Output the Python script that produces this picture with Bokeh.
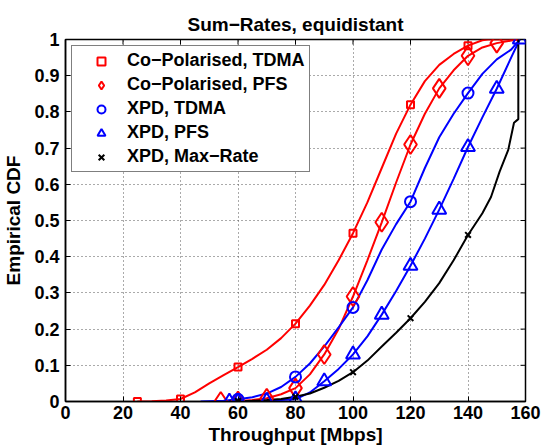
import math
from bokeh.plotting import figure
from bokeh.models import Legend, LegendItem, FixedTicker, Range1d
from bokeh.embed import file_html
from bokeh.resources import INLINE

# ---------------- data ----------------
x_ticks = [0, 20, 40, 60, 80, 100, 120, 140, 160]
x_tick_labels = ["0", "20", "40", "60", "80", "100", "120", "140", "160"]
y_ticks = [0, 0.1, 0.2, 0.3, 0.4, 0.5, 0.6, 0.7, 0.8, 0.9, 1.0]
y_tick_labels = ["0", "0.1", "0.2", "0.3", "0.4", "0.5", "0.6", "0.7", "0.8", "0.9", "1"]

series_names = ["Co\u2212Polarised, TDMA", "Co\u2212Polarised, PFS", "XPD, TDMA", "XPD, PFS", "XPD, Max\u2212Rate"]

co_tdma_x = [25, 30, 35, 40, 45, 50, 55, 60, 65, 70, 75, 80, 85, 90, 95, 100, 105, 110, 115, 120, 125, 130, 135, 140, 145, 147, 158]
co_tdma_y = [0, 0.001, 0.003, 0.007, 0.025, 0.05, 0.073, 0.095, 0.118, 0.143, 0.175, 0.215, 0.265, 0.322, 0.39, 0.465, 0.55, 0.645, 0.74, 0.82, 0.885, 0.93, 0.96, 0.983, 0.998, 1.0, 1.0]
co_tdma_mx = [25, 40, 60, 80, 100, 120, 140]
co_tdma_my = [0, 0.007, 0.095, 0.215, 0.465, 0.82, 0.983]

co_pfs_x = [54, 60, 65, 70, 75, 80, 85, 90, 95, 100, 105, 110, 115, 120, 125, 130, 135, 140, 145, 150, 155, 158]
co_pfs_y = [0, 0.001, 0.004, 0.009, 0.02, 0.037, 0.075, 0.13, 0.2, 0.29, 0.39, 0.495, 0.605, 0.71, 0.795, 0.865, 0.915, 0.955, 0.978, 0.99, 0.997, 1.0]
co_pfs_mx = [54, 60, 70, 80, 90, 100, 110, 120, 130, 140, 150]
co_pfs_my = [0, 0.001, 0.009, 0.037, 0.13, 0.29, 0.495, 0.71, 0.865, 0.955, 0.99]

xpd_tdma_x = [47, 55, 60, 65, 70, 75, 80, 85, 90, 95, 100, 105, 110, 115, 120, 125, 130, 135, 140, 145, 150, 155, 158]
xpd_tdma_y = [0, 0.002, 0.006, 0.012, 0.022, 0.04, 0.068, 0.105, 0.152, 0.205, 0.26, 0.335, 0.42, 0.49, 0.552, 0.645, 0.73, 0.795, 0.852, 0.905, 0.945, 0.972, 1.0]
xpd_tdma_mx = [60, 80, 100, 120, 140]
xpd_tdma_my = [0.006, 0.068, 0.26, 0.552, 0.852]

xpd_pfs_x = [57, 60, 65, 70, 75, 80, 85, 90, 95, 100, 105, 110, 115, 120, 125, 130, 135, 140, 145, 150, 155, 158]
xpd_pfs_y = [0, 0, 0.001, 0.002, 0.004, 0.006, 0.025, 0.056, 0.09, 0.13, 0.18, 0.24, 0.305, 0.375, 0.45, 0.53, 0.615, 0.703, 0.785, 0.864, 0.95, 1.0]
xpd_pfs_mx = [57, 60, 70, 80, 90, 100, 110, 120, 130, 140, 150, 158]
xpd_pfs_my = [0, 0, 0.002, 0.006, 0.056, 0.13, 0.24, 0.375, 0.53, 0.703, 0.864, 1.0]

xpd_max_x = [57, 60, 65, 70, 75, 80, 85, 90, 95, 100, 105, 110, 115, 120, 125, 130, 135, 140, 145, 148, 151, 154, 156, 157.5, 157.5, 158]
xpd_max_y = [0, 0.001, 0.002, 0.004, 0.007, 0.013, 0.022, 0.038, 0.057, 0.081, 0.113, 0.152, 0.19, 0.23, 0.275, 0.327, 0.39, 0.46, 0.52, 0.565, 0.635, 0.695, 0.77, 0.78, 1.0, 1.0]
xpd_max_mx = [60, 80, 100, 120, 140]
xpd_max_my = [0.001, 0.013, 0.081, 0.23, 0.46]

# ---------------- figure ----------------
FONT = "Liberation Sans"
p = figure(width=543, height=447, x_range=Range1d(0, 160), y_range=Range1d(0, 1),
           output_backend="svg", toolbar_location=None,
           min_border_left=65, min_border_right=18, min_border_top=39, min_border_bottom=45,
           title="Sum\u2212Rates, equidistant")
p.title.align = "center"
p.title.text_font = FONT
p.title.text_font_size = "19px"
p.title.text_font_style = "bold"
p.title.text_color = "black"
p.title.standoff = 9

p.outline_line_color = "black"
p.outline_line_width = 1.5
p.background_fill_color = "white"
p.border_fill_color = "white"

xt = FixedTicker(ticks=x_ticks)
yt = FixedTicker(ticks=y_ticks)
for ax, tk, labels, name in [(p.xaxis[0], xt, x_tick_labels, "Throughput [Mbps]"),
                             (p.yaxis[0], yt, y_tick_labels, "Empirical CDF")]:
    ax.ticker = tk
    ax.major_label_overrides = {t: l for t, l in zip(tk.ticks, labels)}
    ax.major_label_text_font = FONT
    ax.major_label_text_font_size = "18px"
    ax.major_label_text_font_style = "bold"
    ax.major_label_text_color = "black"
    ax.axis_label = name
    ax.axis_label_text_font = FONT
    ax.axis_label_text_font_size = "19px"
    ax.axis_label_text_font_style = "bold"
    ax.axis_label_text_color = "black"
    ax.major_tick_in = 5
    ax.major_tick_out = 0
    ax.minor_tick_line_color = None
    ax.axis_line_width = 1.5
    ax.axis_line_color = "black"
    ax.major_tick_line_color = "black"
p.xaxis.major_label_standoff = 4
p.xaxis.axis_label_standoff = 2
p.yaxis.major_label_standoff = 6
p.yaxis.axis_label_standoff = 7

for g in (p.xgrid[0], p.ygrid[0]):
    g.grid_line_color = "#555555"
    g.grid_line_dash = "1 3"
    g.grid_line_width = 1
p.xgrid[0].ticker = xt
p.ygrid[0].ticker = yt

# tick marks on the top and right edges of the box (outer half is clipped by the frame)
p.scatter(x_ticks, [y_ticks[-1]] * len(x_ticks), marker="dash", angle=math.pi / 2, size=10,
          line_color="black", line_width=1)
p.scatter([x_ticks[-1]] * len(y_ticks), y_ticks, marker="dash", size=10,
          line_color="black", line_width=1)

RED, BLUE, BLACK = "#ff0000", "#0000ff", "#000000"
LW = 2

p.line(co_tdma_x, co_tdma_y, line_color=RED, line_width=LW)
p.line(co_pfs_x, co_pfs_y, line_color=RED, line_width=LW)
p.line(xpd_tdma_x, xpd_tdma_y, line_color=BLUE, line_width=LW)
p.line(xpd_pfs_x, xpd_pfs_y, line_color=BLUE, line_width=LW)
p.line(xpd_max_x, xpd_max_y, line_color=BLACK, line_width=LW)

m1 = p.scatter(co_tdma_mx, co_tdma_my, marker="square", size=7, line_color=RED, line_width=2, fill_color=None)
m2 = p.scatter(co_pfs_mx, co_pfs_my, marker="diamond", size=19, line_color=RED, line_width=2, fill_color=None)
m3 = p.scatter(xpd_tdma_mx, xpd_tdma_my, marker="circle", size=11, line_color=BLUE, line_width=2, fill_color=None)
m4 = p.scatter(xpd_pfs_mx, xpd_pfs_my, marker="triangle", size=14, line_color=BLUE, line_width=2, fill_color=None)
m5 = p.scatter(xpd_max_mx, xpd_max_my, marker="x", size=8, line_color=BLACK, line_width=2)

legend = Legend(items=[LegendItem(label=n, renderers=[r]) for n, r in zip(series_names, [m1, m2, m3, m4, m5])],
                location="top_left", margin=6, padding=4, spacing=3,
                label_height=20, glyph_height=20, glyph_width=50, label_standoff=1,
                label_text_font=FONT, label_text_font_size="18px", label_text_font_style="bold",
                label_text_color="black",
                border_line_color="black", border_line_width=1.5,
                background_fill_color="white", background_fill_alpha=1)
p.add_layout(legend)

open("out.html", "w").write(file_html(p, INLINE))
